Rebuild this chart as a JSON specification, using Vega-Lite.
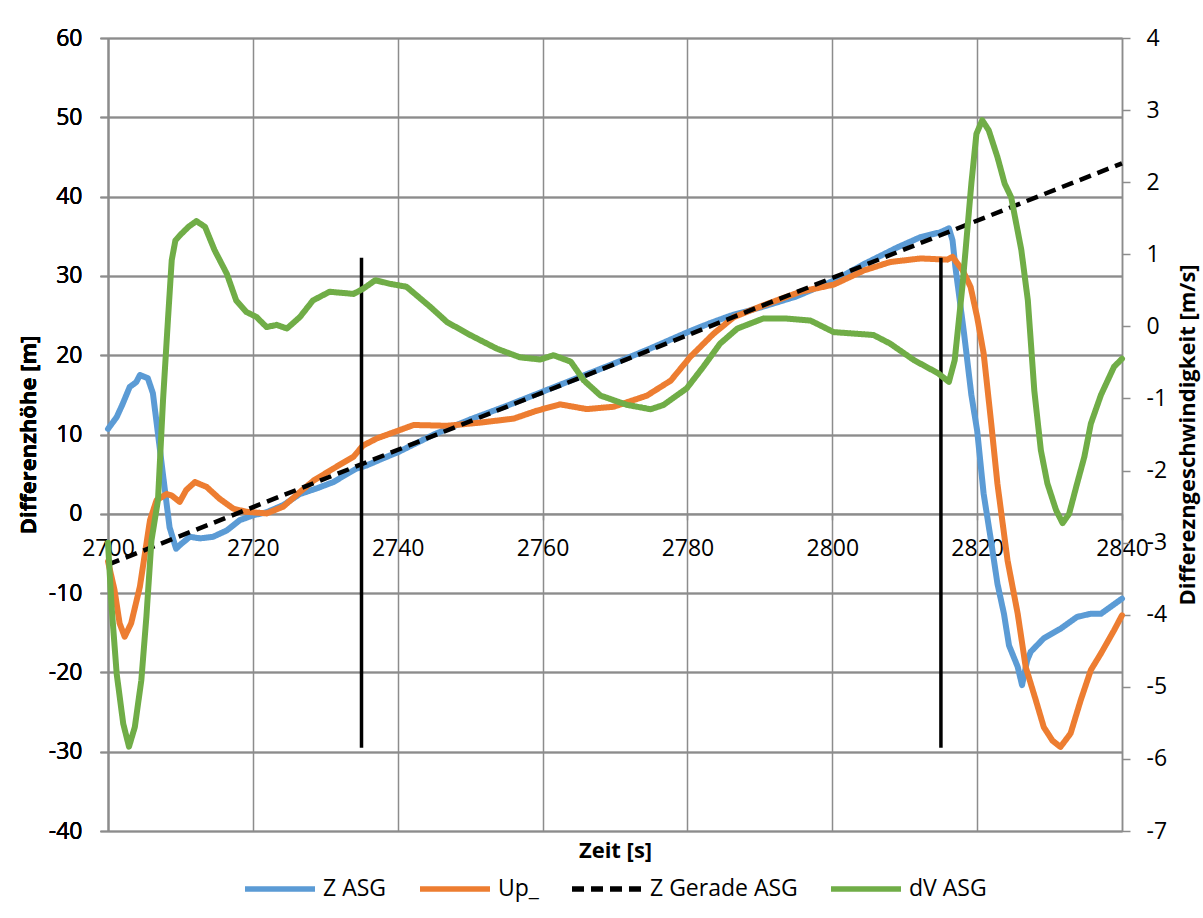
{
  "$schema": "https://vega.github.io/schema/vega-lite/v6.json",
  "width": 1014,
  "height": 793,
  "autosize": {"type": "none"},
  "padding": {"left": 108, "top": 38, "right": 81, "bottom": 87},
  "background": "white",
  "config": {
    "font": "Open Sans",
    "view": {"stroke": null},
    "axis": {
      "labelFont": "Open Sans", "labelFontSize": 23, "labelColor": "#000000",
      "titleFont": "Open Sans", "titleFontSize": 22, "titleFontWeight": "bold", "titleColor": "#000000",
      "gridColor": "#8c8c8c", "gridWidth": 1.5, "gridOpacity": 1,
      "domainColor": "#8c8c8c", "domainWidth": 1.5,
      "tickColor": "#8c8c8c", "tickWidth": 1.5
    },
    "legend": {
      "orient": "none", "legendX": 134, "legendY": 813,
      "direction": "horizontal", "columns": 4, "columnPadding": 22,
      "symbolType": "stroke", "symbolSize": 4900, "symbolStrokeWidth": 5.5,
      "labelFont": "Open Sans", "labelFontSize": 23, "labelOffset": 5, "labelColor": "#000000",
      "labelLimit": 400
    }
  },
  "datasets": {
    "main": [
      {"s":"Z ASG","t":2700.0,"z":10.7},{"s":"Z ASG","t":2701.2,"z":12.2},{"s":"Z ASG","t":2702.0,"z":13.8},{"s":"Z ASG","t":2703.0,"z":16.0},{"s":"Z ASG","t":2703.9,"z":16.6},{"s":"Z ASG","t":2704.4,"z":17.5},{"s":"Z ASG","t":2705.5,"z":17.1},{"s":"Z ASG","t":2706.2,"z":15.2},{"s":"Z ASG","t":2706.9,"z":10.1},{"s":"Z ASG","t":2707.8,"z":3.4},{"s":"Z ASG","t":2708.5,"z":-1.7},{"s":"Z ASG","t":2709.4,"z":-4.4},{"s":"Z ASG","t":2710.1,"z":-3.8},{"s":"Z ASG","t":2711.3,"z":-2.9},{"s":"Z ASG","t":2712.7,"z":-3.1},{"s":"Z ASG","t":2714.5,"z":-2.9},{"s":"Z ASG","t":2716.4,"z":-2.1},{"s":"Z ASG","t":2718.2,"z":-0.8},{"s":"Z ASG","t":2720.0,"z":-0.2},{"s":"Z ASG","t":2721.9,"z":0.2},{"s":"Z ASG","t":2724.2,"z":1.1},{"s":"Z ASG","t":2726.5,"z":2.5},{"s":"Z ASG","t":2728.8,"z":3.2},{"s":"Z ASG","t":2731.1,"z":4.0},{"s":"Z ASG","t":2734.3,"z":5.7},{"s":"Z ASG","t":2735.7,"z":6.1},{"s":"Z ASG","t":2738.0,"z":7.0},{"s":"Z ASG","t":2740.1,"z":7.8},{"s":"Z ASG","t":2745.0,"z":10.0},{"s":"Z ASG","t":2750.0,"z":11.9},{"s":"Z ASG","t":2755.0,"z":13.6},{"s":"Z ASG","t":2760.0,"z":15.4},{"s":"Z ASG","t":2765.0,"z":17.2},{"s":"Z ASG","t":2770.0,"z":19.0},{"s":"Z ASG","t":2775.0,"z":20.9},{"s":"Z ASG","t":2780.0,"z":22.9},{"s":"Z ASG","t":2783.0,"z":24.0},{"s":"Z ASG","t":2786.0,"z":25.0},{"s":"Z ASG","t":2790.0,"z":26.0},{"s":"Z ASG","t":2795.0,"z":27.4},{"s":"Z ASG","t":2800.2,"z":29.4},{"s":"Z ASG","t":2804.4,"z":31.5},{"s":"Z ASG","t":2809.0,"z":33.6},{"s":"Z ASG","t":2812.2,"z":34.9},{"s":"Z ASG","t":2814.9,"z":35.5},{"s":"Z ASG","t":2816.1,"z":36.0},{"s":"Z ASG","t":2816.6,"z":34.5},{"s":"Z ASG","t":2817.0,"z":31.1},{"s":"Z ASG","t":2818.2,"z":22.7},{"s":"Z ASG","t":2819.2,"z":15.0},{"s":"Z ASG","t":2820.0,"z":10.5},{"s":"Z ASG","t":2820.9,"z":2.5},{"s":"Z ASG","t":2821.9,"z":-3.3},{"s":"Z ASG","t":2822.8,"z":-8.8},{"s":"Z ASG","t":2823.7,"z":-12.6},{"s":"Z ASG","t":2824.4,"z":-16.6},{"s":"Z ASG","t":2825.6,"z":-19.3},{"s":"Z ASG","t":2826.2,"z":-21.6},{"s":"Z ASG","t":2826.9,"z":-18.5},{"s":"Z ASG","t":2827.4,"z":-17.4},{"s":"Z ASG","t":2829.2,"z":-15.7},{"s":"Z ASG","t":2831.5,"z":-14.5},{"s":"Z ASG","t":2833.8,"z":-13.0},{"s":"Z ASG","t":2835.7,"z":-12.6},{"s":"Z ASG","t":2837.1,"z":-12.6},{"s":"Z ASG","t":2838.4,"z":-11.75},{"s":"Z ASG","t":2840.0,"z":-10.7},
      {"s":"Up_","t":2700.0,"z":-6.0},{"s":"Up_","t":2700.9,"z":-9.6},{"s":"Up_","t":2701.6,"z":-13.8},{"s":"Up_","t":2702.3,"z":-15.5},{"s":"Up_","t":2703.2,"z":-13.8},{"s":"Up_","t":2704.4,"z":-9.2},{"s":"Up_","t":2705.3,"z":-3.8},{"s":"Up_","t":2705.8,"z":-0.8},{"s":"Up_","t":2706.7,"z":1.7},{"s":"Up_","t":2708.1,"z":2.5},{"s":"Up_","t":2708.8,"z":2.3},{"s":"Up_","t":2709.9,"z":1.5},{"s":"Up_","t":2710.8,"z":3.0},{"s":"Up_","t":2712.0,"z":4.0},{"s":"Up_","t":2713.6,"z":3.4},{"s":"Up_","t":2715.4,"z":1.9},{"s":"Up_","t":2717.3,"z":0.65},{"s":"Up_","t":2719.1,"z":0.25},{"s":"Up_","t":2721.9,"z":0.05},{"s":"Up_","t":2724.2,"z":0.9},{"s":"Up_","t":2726.5,"z":2.75},{"s":"Up_","t":2728.4,"z":4.2},{"s":"Up_","t":2731.1,"z":5.7},{"s":"Up_","t":2733.9,"z":7.2},{"s":"Up_","t":2735.2,"z":8.6},{"s":"Up_","t":2737.1,"z":9.5},{"s":"Up_","t":2740.1,"z":10.5},{"s":"Up_","t":2742.2,"z":11.2},{"s":"Up_","t":2746.8,"z":11.1},{"s":"Up_","t":2751.4,"z":11.5},{"s":"Up_","t":2756.0,"z":12.0},{"s":"Up_","t":2759.2,"z":13.0},{"s":"Up_","t":2762.4,"z":13.8},{"s":"Up_","t":2766.1,"z":13.2},{"s":"Up_","t":2769.8,"z":13.5},{"s":"Up_","t":2774.4,"z":14.9},{"s":"Up_","t":2777.7,"z":16.8},{"s":"Up_","t":2780.4,"z":19.8},{"s":"Up_","t":2783.6,"z":22.7},{"s":"Up_","t":2786.4,"z":24.8},{"s":"Up_","t":2790.5,"z":26.3},{"s":"Up_","t":2795.6,"z":28.0},{"s":"Up_","t":2800.2,"z":28.9},{"s":"Up_","t":2804.4,"z":30.7},{"s":"Up_","t":2808.0,"z":31.75},{"s":"Up_","t":2812.2,"z":32.2},{"s":"Up_","t":2815.9,"z":32.05},{"s":"Up_","t":2816.6,"z":32.4},{"s":"Up_","t":2818.0,"z":30.7},{"s":"Up_","t":2819.1,"z":28.6},{"s":"Up_","t":2820.0,"z":24.8},{"s":"Up_","t":2820.9,"z":20.2},{"s":"Up_","t":2821.9,"z":11.8},{"s":"Up_","t":2822.8,"z":3.8},{"s":"Up_","t":2824.2,"z":-5.9},{"s":"Up_","t":2825.6,"z":-12.6},{"s":"Up_","t":2826.7,"z":-19.3},{"s":"Up_","t":2828.1,"z":-23.5},{"s":"Up_","t":2829.2,"z":-26.9},{"s":"Up_","t":2830.4,"z":-28.6},{"s":"Up_","t":2831.5,"z":-29.4},{"s":"Up_","t":2832.9,"z":-27.7},{"s":"Up_","t":2834.3,"z":-23.5},{"s":"Up_","t":2835.7,"z":-19.7},{"s":"Up_","t":2837.1,"z":-17.6},{"s":"Up_","t":2838.9,"z":-14.7},{"s":"Up_","t":2840.0,"z":-12.8},
      {"s":"Z Gerade ASG","t":2700.0,"z":-6.4},{"s":"Z Gerade ASG","t":2840.0,"z":44.2}
    ],
    "marks": [
      {"t":2735,"z1":-29.5,"z2":32.3},
      {"t":2815,"z1":-29.5,"z2":32.3}
    ],
    "dv": [
      {"s":"dV ASG","t":2700.0,"v":-3.0},{"s":"dV ASG","t":2700.5,"v":-3.89},{"s":"dV ASG","t":2701.2,"v":-4.82},{"s":"dV ASG","t":2702.1,"v":-5.51},{"s":"dV ASG","t":2702.9,"v":-5.83},{"s":"dV ASG","t":2703.7,"v":-5.56},{"s":"dV ASG","t":2704.6,"v":-4.91},{"s":"dV ASG","t":2705.3,"v":-4.03},{"s":"dV ASG","t":2706.0,"v":-2.97},{"s":"dV ASG","t":2706.9,"v":-2.41},{"s":"dV ASG","t":2707.6,"v":-1.02},{"s":"dV ASG","t":2708.3,"v":0.13},{"s":"dV ASG","t":2708.8,"v":0.92},{"s":"dV ASG","t":2709.3,"v":1.19},{"s":"dV ASG","t":2709.9,"v":1.26},{"s":"dV ASG","t":2711.1,"v":1.38},{"s":"dV ASG","t":2712.2,"v":1.46},{"s":"dV ASG","t":2713.4,"v":1.38},{"s":"dV ASG","t":2714.7,"v":1.06},{"s":"dV ASG","t":2716.4,"v":0.73},{"s":"dV ASG","t":2717.7,"v":0.36},{"s":"dV ASG","t":2719.1,"v":0.2},{"s":"dV ASG","t":2720.5,"v":0.13},{"s":"dV ASG","t":2721.9,"v":-0.01},{"s":"dV ASG","t":2723.3,"v":0.02},{"s":"dV ASG","t":2724.7,"v":-0.03},{"s":"dV ASG","t":2726.5,"v":0.13},{"s":"dV ASG","t":2728.3,"v":0.36},{"s":"dV ASG","t":2730.6,"v":0.48},{"s":"dV ASG","t":2733.9,"v":0.45},{"s":"dV ASG","t":2735.2,"v":0.52},{"s":"dV ASG","t":2736.9,"v":0.64},{"s":"dV ASG","t":2738.9,"v":0.59},{"s":"dV ASG","t":2741.2,"v":0.55},{"s":"dV ASG","t":2744.5,"v":0.27},{"s":"dV ASG","t":2746.8,"v":0.06},{"s":"dV ASG","t":2750.0,"v":-0.12},{"s":"dV ASG","t":2753.7,"v":-0.31},{"s":"dV ASG","t":2756.9,"v":-0.43},{"s":"dV ASG","t":2759.7,"v":-0.46},{"s":"dV ASG","t":2761.5,"v":-0.4},{"s":"dV ASG","t":2763.9,"v":-0.49},{"s":"dV ASG","t":2765.7,"v":-0.75},{"s":"dV ASG","t":2768.0,"v":-0.96},{"s":"dV ASG","t":2771.7,"v":-1.09},{"s":"dV ASG","t":2774.9,"v":-1.15},{"s":"dV ASG","t":2776.7,"v":-1.09},{"s":"dV ASG","t":2779.9,"v":-0.86},{"s":"dV ASG","t":2782.2,"v":-0.56},{"s":"dV ASG","t":2784.5,"v":-0.24},{"s":"dV ASG","t":2786.9,"v":-0.03},{"s":"dV ASG","t":2790.5,"v":0.11},{"s":"dV ASG","t":2793.5,"v":0.11},{"s":"dV ASG","t":2797.0,"v":0.08},{"s":"dV ASG","t":2800.2,"v":-0.08},{"s":"dV ASG","t":2805.7,"v":-0.12},{"s":"dV ASG","t":2808.0,"v":-0.24},{"s":"dV ASG","t":2811.3,"v":-0.47},{"s":"dV ASG","t":2814.6,"v":-0.65},{"s":"dV ASG","t":2816.1,"v":-0.77},{"s":"dV ASG","t":2816.9,"v":-0.47},{"s":"dV ASG","t":2818.0,"v":0.59},{"s":"dV ASG","t":2819.2,"v":1.98},{"s":"dV ASG","t":2819.9,"v":2.67},{"s":"dV ASG","t":2820.7,"v":2.86},{"s":"dV ASG","t":2821.6,"v":2.72},{"s":"dV ASG","t":2822.8,"v":2.35},{"s":"dV ASG","t":2823.8,"v":1.98},{"s":"dV ASG","t":2824.7,"v":1.79},{"s":"dV ASG","t":2826.1,"v":1.06},{"s":"dV ASG","t":2827.0,"v":0.36},{"s":"dV ASG","t":2827.9,"v":-0.9},{"s":"dV ASG","t":2828.8,"v":-1.72},{"s":"dV ASG","t":2829.7,"v":-2.18},{"s":"dV ASG","t":2830.9,"v":-2.55},{"s":"dV ASG","t":2831.8,"v":-2.73},{"s":"dV ASG","t":2832.7,"v":-2.6},{"s":"dV ASG","t":2833.8,"v":-2.18},{"s":"dV ASG","t":2834.8,"v":-1.81},{"s":"dV ASG","t":2835.7,"v":-1.35},{"s":"dV ASG","t":2837.1,"v":-0.95},{"s":"dV ASG","t":2838.9,"v":-0.56},{"s":"dV ASG","t":2840.0,"v":-0.45}
    ]
  },
  "encoding": {
    "x": {
      "field": "t", "type": "quantitative",
      "scale": {"domain": [2700, 2840], "nice": false, "zero": false},
      "axis": {
        "orient": "bottom", "offset": -317.2,
        "values": [2700, 2720, 2740, 2760, 2780, 2800, 2820, 2840],
        "grid": true, "tickSize": 6, "labelPadding": 18,
        "labelFlush": false, "labelOverlap": false, "labelBound": false,
        "labelExpr": "'' + datum.value",
        "title": "Zeit [s]", "titlePadding": 280
      }
    }
  },
  "layer": [
    {
      "data": {"name": "main"},
      "transform": [{"filter": "datum.s === 'Z ASG'"}],
      "mark": {"type": "line", "strokeWidth": 6, "strokeJoin": "round", "strokeCap": "round"},
      "encoding": {
        "y": {"field": "z", "type": "quantitative", "scale": {"domain": [-40, 60], "nice": false, "zero": false},
              "axis": {"orient": "left", "values": [-40, -30, -20, -10, 0, 10, 20, 30, 40, 50, 60], "grid": true, "tickSize": 8, "labelPadding": 18, "labelExpr": "'' + datum.value", "title": "Differenzhöhe [m]", "titlePadding": 8}},
        "color": {"field": "s", "type": "nominal", "scale": {"domain": ["Z ASG", "Up_", "Z Gerade ASG", "dV ASG"], "range": ["#5B9BD5", "#ED7D31", "#000000", "#70AD47"]}, "legend": {"title": null}},
        "strokeDash": {"field": "s", "type": "nominal", "scale": {"domain": ["Z ASG", "Up_", "Z Gerade ASG", "dV ASG"], "range": [[1, 0], [1, 0], [12, 7], [1, 0]]}, "legend": {"title": null}}
      }
    },
    {
      "data": {"name": "main"},
      "transform": [{"filter": "datum.s === 'Up_'"}],
      "mark": {"type": "line", "strokeWidth": 6, "strokeJoin": "round", "strokeCap": "round"},
      "encoding": {
        "y": {"field": "z", "type": "quantitative", "scale": {"domain": [-40, 60], "nice": false, "zero": false},
              "axis": {"orient": "left", "values": [-40, -30, -20, -10, 0, 10, 20, 30, 40, 50, 60], "grid": true, "tickSize": 8, "labelPadding": 18, "labelExpr": "'' + datum.value", "title": "Differenzhöhe [m]", "titlePadding": 8}},
        "color": {"field": "s", "type": "nominal", "scale": {"domain": ["Z ASG", "Up_", "Z Gerade ASG", "dV ASG"], "range": ["#5B9BD5", "#ED7D31", "#000000", "#70AD47"]}, "legend": {"title": null}},
        "strokeDash": {"field": "s", "type": "nominal", "scale": {"domain": ["Z ASG", "Up_", "Z Gerade ASG", "dV ASG"], "range": [[1, 0], [1, 0], [12, 7], [1, 0]]}, "legend": {"title": null}}
      }
    },
    {
      "data": {"name": "main"},
      "transform": [{"filter": "datum.s === 'Z Gerade ASG'"}],
      "mark": {"type": "line", "strokeWidth": 4.5},
      "encoding": {
        "y": {"field": "z", "type": "quantitative", "scale": {"domain": [-40, 60], "nice": false, "zero": false},
              "axis": {"orient": "left", "values": [-40, -30, -20, -10, 0, 10, 20, 30, 40, 50, 60], "grid": true, "tickSize": 8, "labelPadding": 18, "labelExpr": "'' + datum.value", "title": "Differenzhöhe [m]", "titlePadding": 8}},
        "color": {"field": "s", "type": "nominal", "scale": {"domain": ["Z ASG", "Up_", "Z Gerade ASG", "dV ASG"], "range": ["#5B9BD5", "#ED7D31", "#000000", "#70AD47"]}, "legend": {"title": null}},
        "strokeDash": {"field": "s", "type": "nominal", "scale": {"domain": ["Z ASG", "Up_", "Z Gerade ASG", "dV ASG"], "range": [[1, 0], [1, 0], [12, 7], [1, 0]]}, "legend": {"title": null}}
      }
    },
    {
      "data": {"name": "marks"},
      "mark": {"type": "rule", "color": "#000000", "strokeWidth": 3.5},
      "encoding": {
        "y": {"field": "z1", "type": "quantitative", "scale": {"domain": [-40, 60], "nice": false, "zero": false},
              "axis": {"orient": "left", "values": [-40, -30, -20, -10, 0, 10, 20, 30, 40, 50, 60], "grid": true, "tickSize": 8, "labelPadding": 18, "labelExpr": "'' + datum.value", "title": "Differenzhöhe [m]", "titlePadding": 8}},
        "y2": {"field": "z2"}
      }
    },
    {
      "data": {"name": "dv"},
      "mark": {"type": "line", "strokeWidth": 6, "strokeJoin": "round", "strokeCap": "round"},
      "encoding": {
        "y": {"field": "v", "type": "quantitative", "scale": {"domain": [-7, 4], "nice": false, "zero": false},
              "axis": {"orient": "right", "values": [-7, -6, -5, -4, -3, -2, -1, 0, 1, 2, 3, 4], "grid": false, "tickSize": 8, "labelPadding": 16, "labelExpr": "'' + datum.value", "title": "Differezngeschwindigkeit [m/s]", "titleAngle": 270, "titleBaseline": "top", "titlePadding": 11}},
        "color": {"field": "s", "type": "nominal", "scale": {"domain": ["Z ASG", "Up_", "Z Gerade ASG", "dV ASG"], "range": ["#5B9BD5", "#ED7D31", "#000000", "#70AD47"]}, "legend": {"title": null}},
        "strokeDash": {"field": "s", "type": "nominal", "scale": {"domain": ["Z ASG", "Up_", "Z Gerade ASG", "dV ASG"], "range": [[1, 0], [1, 0], [12, 7], [1, 0]]}, "legend": {"title": null}}
      }
    }
  ],
  "resolve": {"scale": {"y": "independent"}}
}
